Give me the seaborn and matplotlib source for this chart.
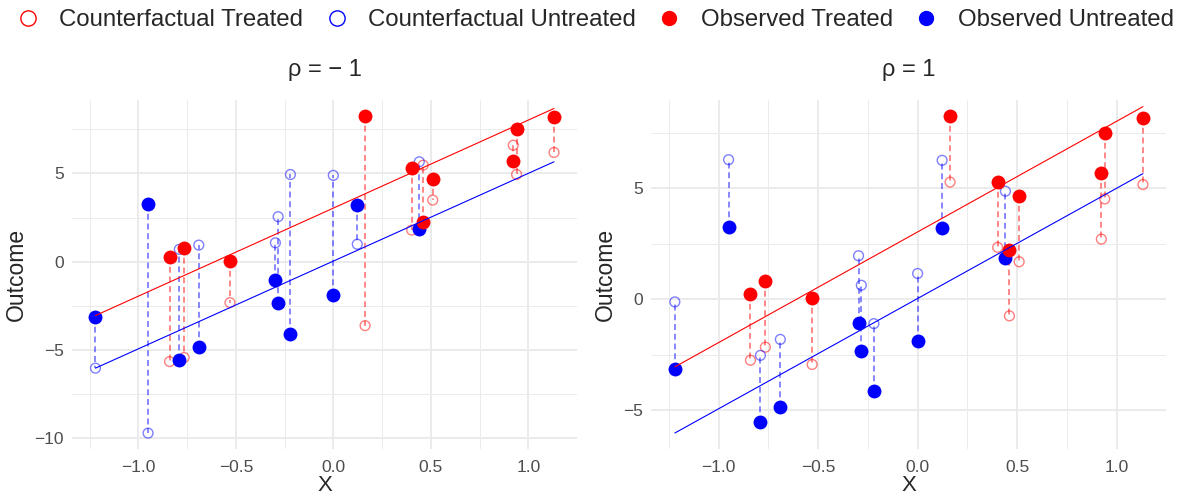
import numpy as np
import pandas as pd
import matplotlib
matplotlib.use("Agg")
import matplotlib.pyplot as plt
from matplotlib.lines import Line2D
from matplotlib.ticker import FixedLocator
import seaborn as sns

# ---------------- data ----------------
x_vals = [-1.22, -0.95, -0.84, -0.79, -0.765, -0.69, -0.53, -0.297, -0.283, -0.22,
          0.0, 0.123, 0.163, 0.402, 0.441, 0.461, 0.51, 0.923, 0.94, 1.132]
treated = [0, 0, 1, 0, 1, 0, 1, 0, 0, 0,
           0, 0, 1, 1, 0, 1, 1, 1, 1, 1]
observed = [-3.15, 3.27, 0.25, -5.55, 0.80, -4.84, 0.06, -1.06, -2.35, -4.12,
            -1.87, 3.22, 8.26, 5.29, 1.85, 2.24, 4.66, 5.70, 7.50, 8.19]
cf_rho_m1 = [-6.03, -9.71, -5.66, 0.70, -5.43, 0.94, -2.32, 1.07, 2.55, 4.94,
             4.89, 0.99, -3.62, 1.79, 5.66, 5.47, 3.49, 6.60, 4.94, 6.19]
cf_rho_p1 = [-0.12, 6.29, -2.75, -2.53, -2.16, -1.81, -2.94, 1.96, 0.63, -1.10,
             1.16, 6.26, 5.28, 2.34, 4.87, -0.75, 1.69, 2.71, 4.52, 5.17]

# true potential-outcome lines (endpoints)
line_x = [-1.22, 1.132]
line_treated = [-3.05, 8.68]
line_untreated = [-6.03, 5.66]

panel_titles = ["ρ = − 1", "ρ = 1"]
legend_labels = ["Counterfactual Treated", "Counterfactual Untreated",
                 "Observed Treated", "Observed Untreated"]

# ---------------- style ----------------
sns.set_theme(style="white")
plt.rcParams['font.family'] = ['Liberation Sans', 'DejaVu Sans']
plt.rcParams['axes.unicode_minus'] = True

RED = "#FF0000"
BLUE = "#0000FF"
GRID = "#EBEBEB"
TICK = "#4D4D4D"

fig = plt.figure(figsize=(11.8, 5.01), dpi=100)
ax_pos = [[0.0614, 0.1038, 0.4276, 0.6966],
          [0.5520, 0.1038, 0.4365, 0.6966]]
ylims = [(-10.61, 9.16), (-6.75, 8.98)]
ymajor = [[-10, -5, 0, 5], [-5, 0, 5]]
yminor = [[-7.5, -2.5, 2.5, 7.5], [-2.5, 2.5, 7.5]]
ylabel_x = [-0.088, -0.066]

base = pd.DataFrame({"X": x_vals, "treated": treated, "obs": observed})
cfs = [cf_rho_m1, cf_rho_p1]

for i in range(2):
    ax = fig.add_axes(ax_pos[i])
    df = base.copy()
    df["cf"] = cfs[i]
    tr = df[df.treated == 1]
    un = df[df.treated == 0]

    ax.set_axisbelow(True)
    for s in ax.spines.values():
        s.set_visible(False)

    # dashed connectors
    dash = (0, (3.3, 2.1))
    ax.vlines(un.X, un.obs, un.cf, colors=BLUE, linestyles=[dash], linewidth=1.3, alpha=0.5, zorder=2)
    ax.vlines(tr.X, tr.obs, tr.cf, colors=RED, linestyles=[dash], linewidth=1.3, alpha=0.5, zorder=2)

    # counterfactual points (open)
    for sub, col in [(tr, RED), (un, BLUE)]:
        sns.scatterplot(data=sub, x="X", y="cf", ax=ax, marker="o", s=50,
                        legend=False, zorder=3)
        coll = ax.collections[-1]
        coll.set_facecolor("none")
        coll.set_edgecolor(col)
        coll.set_linewidth(1.0)
        coll.set_alpha(0.5)

    # observed points (filled)
    for sub, col in [(un, BLUE), (tr, RED)]:
        sns.scatterplot(data=sub, x="X", y="obs", ax=ax, color=col, marker="o",
                        s=100, linewidth=0, legend=False, zorder=4)

    # true lines
    sns.lineplot(x=line_x, y=line_treated, ax=ax, color=RED, linewidth=0.8, zorder=5)
    sns.lineplot(x=line_x, y=line_untreated, ax=ax, color=BLUE, linewidth=0.8, zorder=5)

    ax.set_xlim(-1.338, 1.25)
    ax.set_ylim(*ylims[i])
    ax.xaxis.set_major_locator(FixedLocator([-1.0, -0.5, 0.0, 0.5, 1.0]))
    ax.xaxis.set_minor_locator(FixedLocator([-1.25, -0.75, -0.25, 0.25, 0.75]))
    ax.set_xticklabels(["−1.0", "−0.5", "0.0", "0.5", "1.0"])
    ax.yaxis.set_major_locator(FixedLocator(ymajor[i]))
    ax.yaxis.set_minor_locator(FixedLocator(yminor[i]))
    ax.set_yticklabels([str(v).replace("-", "−") for v in ymajor[i]])
    ax.grid(which="major", color=GRID, linewidth=1.4)
    ax.grid(which="minor", color=GRID, linewidth=0.7)
    ax.tick_params(which="both", length=0)
    ax.tick_params(axis="x", pad=8, labelsize=12.5, labelcolor=TICK)
    ax.tick_params(axis="y", pad=6, labelsize=12.5, labelcolor=TICK)
    ax.set_xlabel("X", fontsize=16, labelpad=0)
    ax.set_ylabel("Outcome", fontsize=16.5)
    ax.yaxis.set_label_coords(ylabel_x[i], 0.5)
    ax.set_title(panel_titles[i], fontsize=17, pad=17)

handles = [
    Line2D([], [], marker="o", linestyle="none", markerfacecolor="none",
           markeredgecolor=RED, markersize=11, markeredgewidth=1.0),
    Line2D([], [], marker="o", linestyle="none", markerfacecolor="none",
           markeredgecolor=BLUE, markersize=11, markeredgewidth=1.0),
    Line2D([], [], marker="o", linestyle="none", markerfacecolor=RED,
           markeredgecolor=RED, markersize=10),
    Line2D([], [], marker="o", linestyle="none", markerfacecolor=BLUE,
           markeredgecolor=BLUE, markersize=10),
]
fig.legend(handles, legend_labels, loc="center", bbox_to_anchor=(0.504, 1 - 20 / 501),
           ncol=4, frameon=False, fontsize=17.3, handlelength=1.0,
           handletextpad=0.8, columnspacing=0.9, borderaxespad=0)

fig.savefig("out.png", dpi=100, facecolor="white")
